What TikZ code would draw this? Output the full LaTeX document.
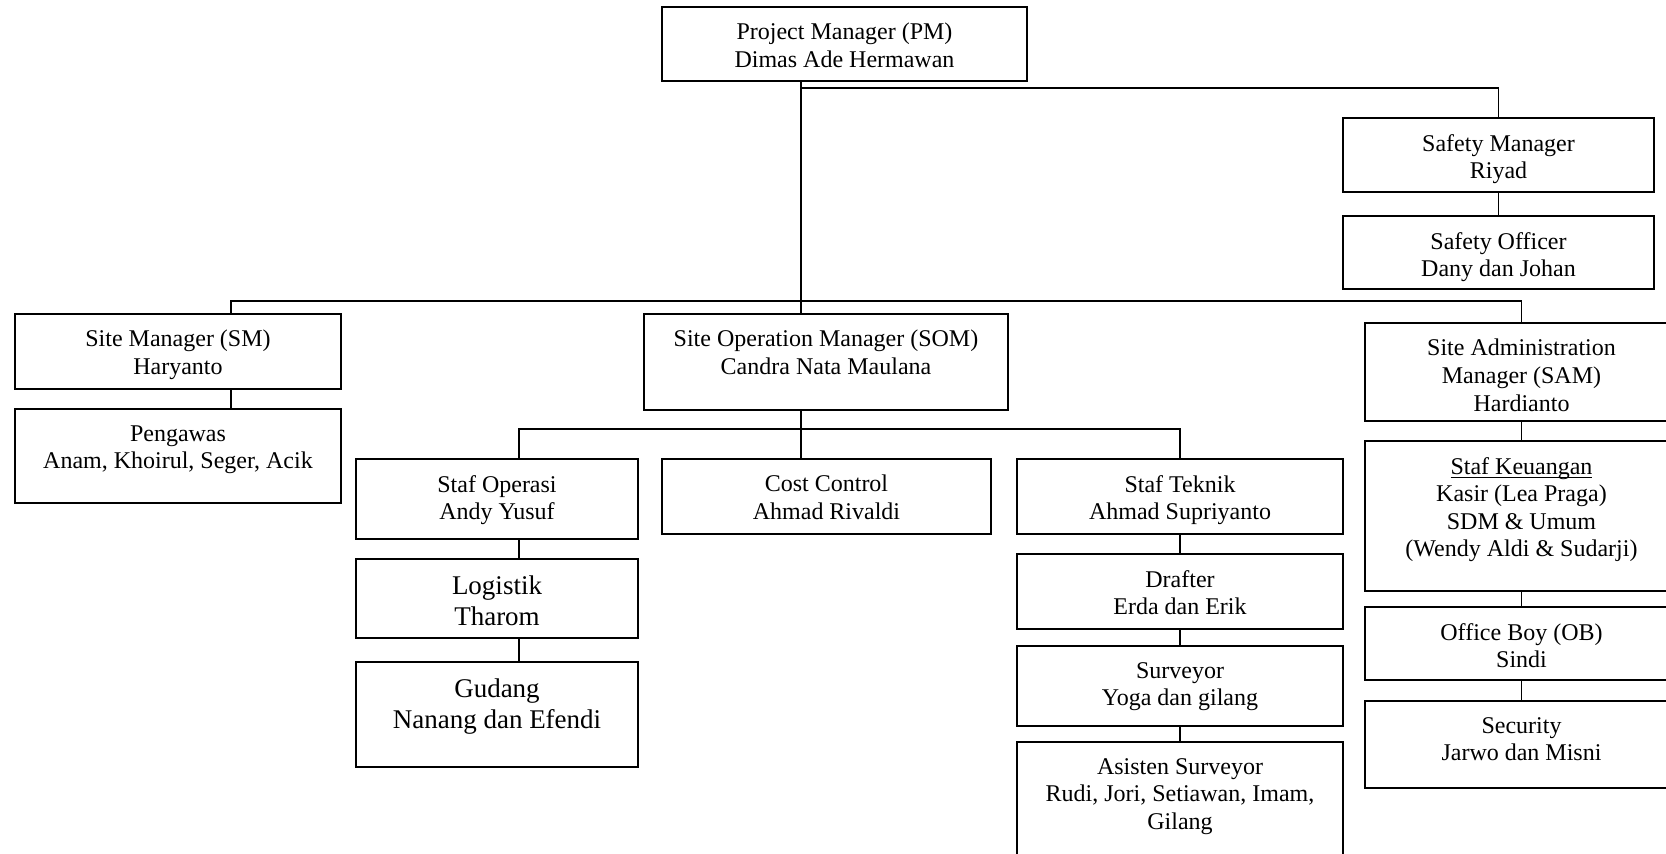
\documentclass[tikz,border=0pt]{standalone}
\usepackage{fontspec}
\setmainfont{Liberation Serif}
\usepackage{tikz}
\usetikzlibrary{positioning}

\tikzset{
  unit/.style={draw, line width=0.9pt, inner sep=0pt},
  txt/.style={align=center, inner sep=0pt, font=\fontsize{12}{13.8}\selectfont},
  bigtxt/.style={txt, font=\fontsize{13.5}{15.5}\selectfont},
  boxtext/.style={label={[txt, anchor=north, yshift=-8.4pt]north:{#1}}},
  bigboxtext/.style={label={[bigtxt, anchor=north, yshift=-8.4pt]north:{#1}}},
  link/.style={line width=0.8pt},
}

\begin{document}
\begin{tikzpicture}[x=0.5pt, y=-0.5pt]
  \useasboundingbox (0,0) rectangle (1666,854);

  % top level
  \node[unit, minimum width=182.5pt, minimum height=37pt, boxtext={Project Manager (PM)\\Dimas Ade Hermawan}] (pm) at (844.5,44) {};
  \node[unit, minimum width=155.5pt, minimum height=37pt, boxtext={Safety Manager\\Riyad}] (safm) at (1498.5,155) {};
  \node[unit, minimum width=155.5pt, minimum height=36.5pt, boxtext={Safety Officer\\Dany dan Johan}] (safo) at (1498.5,252.5) {};

  % managers
  \node[unit, minimum width=163pt, minimum height=37.5pt, boxtext={Site Manager (SM)\\Haryanto}] (sm) at (178,351.5) {};
  \node[unit, minimum width=163pt, minimum height=47pt, boxtext={Pengawas\\Anam, Khoirul, Seger, Acik}] (pgw) at (178,456) {};
  \node[unit, minimum width=182pt, minimum height=48pt, boxtext={Site Operation Manager (SOM)\\Candra Nata Maulana}] (som) at (826,362) {};
  \node[unit, minimum width=156.5pt, minimum height=49pt, boxtext={Site Administration\\Manager (SAM)\\Hardianto}] (sam) at (1521.5,372) {};

  % administration
  \node[unit, minimum width=156.5pt, minimum height=75pt, boxtext={\underline{Staf Keuan\smash{g}an}\\Kasir (Lea Praga)\\SDM \& Umum\\(Wendy Aldi \& Sudarji)}] (keu) at (1521.5,516) {};
  \node[unit, minimum width=156.5pt, minimum height=36.5pt, boxtext={Office Boy (OB)\\Sindi}] (ob) at (1521.5,643.5) {};
  \node[unit, minimum width=156.5pt, minimum height=43.5pt, boxtext={Security\\Jarwo dan Misni}] (sec) at (1521.5,744.5) {};

  % operation
  \node[unit, minimum width=141pt, minimum height=40pt, boxtext={Staf Operasi\\Andy Yusuf}] (sop) at (497,499) {};
  \node[unit, minimum width=141pt, minimum height=39.5pt, bigboxtext={Logistik\\Tharom}] (lgs) at (497,598.5) {};
  \node[unit, minimum width=141pt, minimum height=52.5pt, bigboxtext={Gudang\\Nanang dan Efendi}] (gdg) at (497,714.5) {};
  \node[unit, minimum width=164.5pt, minimum height=37.5pt, boxtext={Cost Control\\Ahmad Rivaldi}] (cost) at (826.5,496.5) {};
  \node[unit, minimum width=163pt, minimum height=37.5pt, boxtext={Staf Teknik\\Ahmad Supriyanto}] (stek) at (1180,496.5) {};
  \node[unit, minimum width=163pt, minimum height=37.5pt, boxtext={Drafter\\Erda dan Erik}] (drf) at (1180,591.5) {};
  \node[unit, minimum width=163pt, minimum height=40pt, boxtext={Surveyor\\Yoga dan gilang}] (svy) at (1180,686) {};
  \node[unit, minimum width=163pt, minimum height=65pt, boxtext={Asisten Surveyor\\Rudi, Jori, Setiawan, Imam,\\Gilang}] (asv) at (1180,807) {};

  % bus lines
  \coordinate (busA) at (801,88);
  \coordinate (busB) at (801,301);
  \coordinate (busC) at (801,429);
  \coordinate (smx) at (231,0);
  \coordinate (sopx) at (519,0);

  \draw[link] (pm.south -| busA) -- (som.north -| busA);
  \draw[link] (busA) -| (safm.north);
  \draw[link] (safm.south) -- (safo.north);
  \draw[link] (sm.north -| smx) |- (sam.north |- busB) -- (sam.north);
  \draw[link] (sm.south -| smx) -- (pgw.north -| smx);
  \draw[link] (sam.south) -- (keu.north);
  \draw[link] (keu.south) -- (ob.north);
  \draw[link] (ob.south) -- (sec.north);
  \draw[link] (som.south -| busC) -- (cost.north -| busC);
  \draw[link] (sop.north -| sopx) |- (stek.north |- busC) -- (stek.north);
  \draw[link] (sop.south -| sopx) -- (lgs.north -| sopx);
  \draw[link] (lgs.south -| sopx) -- (gdg.north -| sopx);
  \draw[link] (stek.south) -- (drf.north);
  \draw[link] (drf.south) -- (svy.north);
  \draw[link] (svy.south) -- (asv.north);
\end{tikzpicture}
\end{document}
